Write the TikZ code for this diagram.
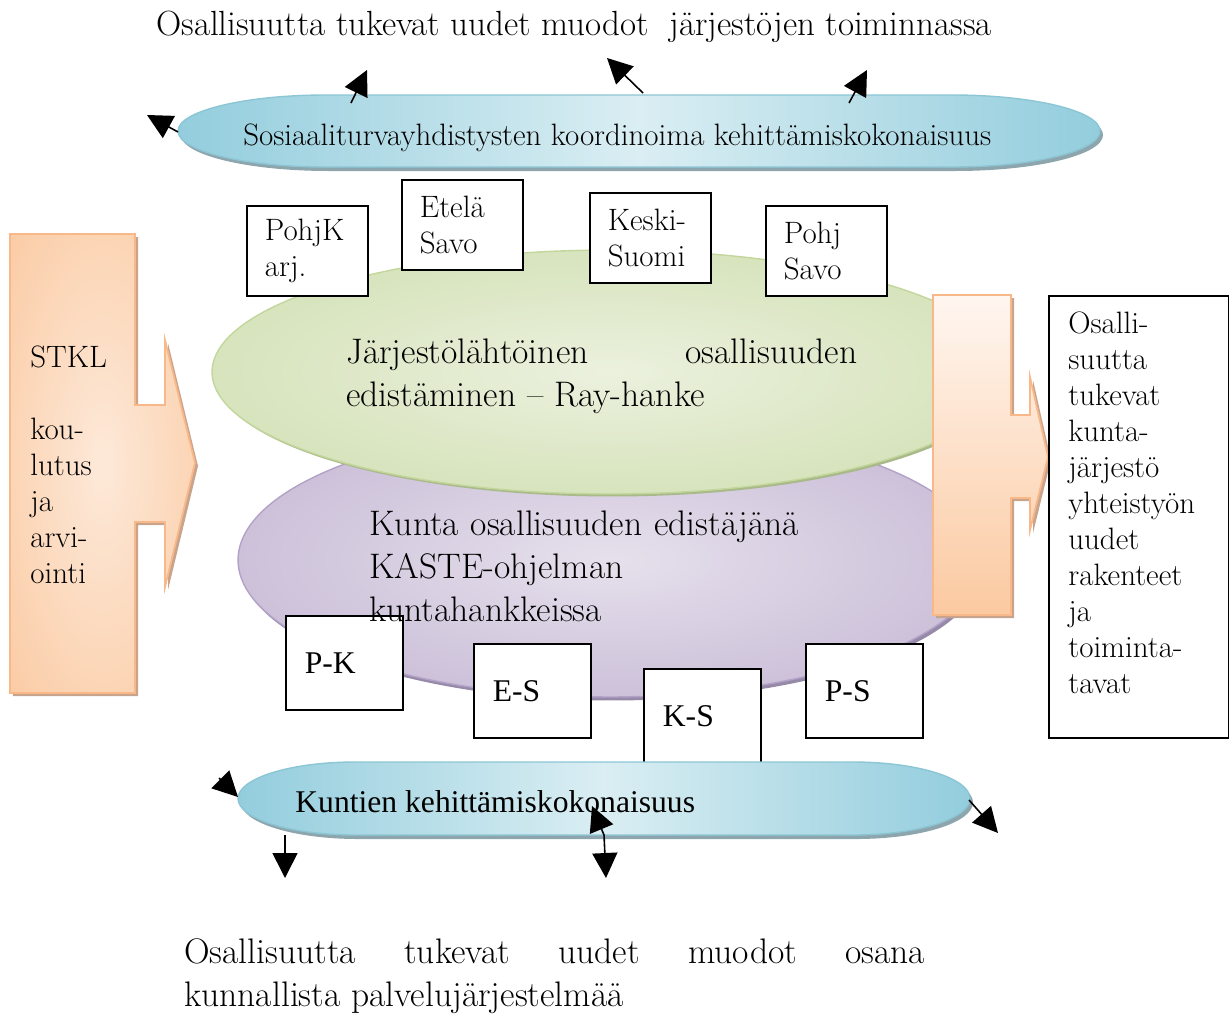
\documentclass[tikz,border=0pt]{standalone}
\usepackage{fontspec}
\newfontfamily\timesfont{Liberation Serif}
\usetikzlibrary{arrows.meta,shapes.geometric,shadows}

\definecolor{capsuleedge}{HTML}{93CDDD}
\definecolor{capsulemid}{HTML}{DAEEF3}
\definecolor{capsuleline}{HTML}{8CC6D5}
\definecolor{capsuleshadow}{HTML}{8DA5AD}
\definecolor{greenedge}{HTML}{C3D69B}
\definecolor{greenmid}{HTML}{EBF1DE}
\definecolor{greenshadow}{HTML}{A9B98A}
\definecolor{purpleedge}{HTML}{B3A2C7}
\definecolor{purplemid}{HTML}{E6E0EC}
\definecolor{purpleshadow}{HTML}{978AA9}
\definecolor{orangeedge}{HTML}{FAC090}
\definecolor{orangemid}{HTML}{FDE9D9}
\definecolor{orangepale}{HTML}{FFF6F0}
\definecolor{orangeline}{HTML}{F9B88A}
\definecolor{orangeshadow}{HTML}{C8A48D}

\pgfdeclareradialshading{greenglow}{\pgfpoint{0bp}{0bp}}{color(0bp)=(greenmid); color(50bp)=(greenedge)}
\pgfdeclareradialshading{purpleglow}{\pgfpoint{0bp}{0bp}}{color(0bp)=(purplemid); color(50bp)=(purpleedge)}
\pgfdeclareradialshading{orangeglow}{\pgfpoint{0bp}{0bp}}{color(0bp)=(orangemid); color(50bp)=(orangeedge)}

\tikzset{
  bigtext/.style={font=\fontsize{20.2}{24.5}\selectfont, inner sep=0pt, anchor=base west, align=left},
  smalltext/.style={font=\fontsize{17.6}{20.5}\selectfont, inner sep=0pt, anchor=base west, align=left},
  capsule/.style={draw=capsuleline, line width=0.8pt, left color=capsuleedge, right color=capsuleedge, middle color=capsulemid,
    drop shadow={shadow xshift=0.06cm, shadow yshift=-0.08cm, fill=capsuleshadow, opacity=1}},
  blob/.style={ellipse, inner sep=0pt, shade, line width=0.8pt},
  callout/.style={draw=orangeline, line width=1pt,
    drop shadow={shadow xshift=0.06cm, shadow yshift=-0.06cm, fill=orangeshadow, opacity=1}},
  regionbox/.style={draw, line width=1pt, fill=white, anchor=north west, minimum width=2.42cm, minimum height=1.8cm,
    text width=1.7cm, inner xsep=0.36cm, inner ysep=0pt, align=left, font=\fontsize{17.6}{20.5}\selectfont},
  townbox/.style={draw, line width=1pt, fill=white, anchor=north west, minimum width=2.34cm, minimum height=1.88cm,
    text width=1.58cm, inner xsep=0.38cm, inner ysep=0pt, align=left, font=\timesfont\fontsize{18}{21}\selectfont},
  pointer/.style={line width=0.9pt, -{Triangle[length=0.5cm, width=0.5cm]}},
  twoway/.style={line width=0.9pt, {Triangle[length=0.5cm, width=0.5cm]}-{Triangle[length=0.5cm, width=0.5cm]}},
}

\begin{document}
\begin{tikzpicture}[x=0.02cm, y=-0.02cm]
  \useasboundingbox (0,0) rectangle (1229,1014);

  \node (heading) [font=\fontsize{19.9}{23}\selectfont, anchor=base, inner sep=0pt] at (574,35)
    {Osallisuutta tukevat uudet muodot \ järjestöjen toiminnassa};

  % associations capsule
  \path[capsule] (326,95) -- (952,95) arc[start angle=-90, end angle=90, x radius=148, y radius=36]
    -- (326,167) arc[start angle=90, end angle=270, x radius=148, y radius=36] -- cycle;
  \node (assoctext) [font=\fontsize{17.6}{20}\selectfont, anchor=base west, inner sep=0pt] at (243,145)
    {Sosiaaliturvayhdistysten koordinoima kehittämiskokonaisuus};
  \coordinate (assoc-w) at (178,132);
  \coordinate (assoc-a) at (351,103);
  \coordinate (assoc-b) at (643,93);
  \coordinate (assoc-c) at (849,103);
  \coordinate (out-w) at (147,115);
  \coordinate (out-a) at (367,70);
  \coordinate (out-b) at (607,58);
  \coordinate (out-c) at (867,70);
  \draw[pointer] (assoc-w) -- (out-w);
  \draw[pointer] (assoc-a) -- (out-a);
  \draw[pointer] (assoc-b) -- (out-b);
  \draw[pointer] (assoc-c) -- (out-c);

  % STKL callout
  \path[callout, shade, shading=orangeglow] (10,234) -- (135,234) -- (135,405) -- (165,405) -- (165,340)
    -- (195,463) -- (165,587) -- (165,522) -- (135,522) -- (135,693) -- (10,693) -- cycle;
  \node (stkl) [smalltext, text width=2cm] at (30,367) {STKL\\[20.5pt]kou-\\lutus\\ja\\arvi-\\ointi};

  % the two projects
  \node (kunta) [blob, shading=purpleglow, draw=purpleedge, minimum width=14.88cm, minimum height=5.48cm,
    drop shadow={shadow xshift=0.05cm, shadow yshift=-0.07cm, fill=purpleshadow, opacity=1}] at (610,560) {};
  \node (jarjesto) [blob, shading=greenglow, draw=greenedge, minimum width=15.92cm, minimum height=4.88cm,
    drop shadow={shadow xshift=0.05cm, shadow yshift=-0.05cm, fill=greenshadow, opacity=1}] at (610,372) {};
  \node (jarjestotext) [bigtext, text width=10.22cm, align=justify] at (346,363)
    {Järjestölähtöinen osallisuuden\linebreak edistäminen – Ray-hanke};

  % regions
  \node (pohjk) [regionbox] at (246,205) {PohjK\\arj.};
  \node (etela) [regionbox] at (401,179) {Etelä\\Savo};
  \node (keski) [regionbox] at (589,192) {Keski-\\Suomi};
  \node (pohjsavo) [regionbox] at (765,205) {Pohj\\Savo};

  \node (pk) [townbox] at (285,615) {P-K};
  \node (es) [townbox] at (473,643) {E-S};
  \node (ks) [townbox] at (643,668) {K-S};
  \node (ps) [townbox] at (805,643) {P-S};
  \node (kuntatext) [bigtext, text width=9.5cm] at (369,535)
    {Kunta osallisuuden edistäjänä\\KASTE-ohjelman\\kuntahankkeissa};

  % result callout and box
  \path[callout, top color=orangepale, bottom color=orangeedge!85] (933,295) -- (1011,295) -- (1011,415)
    -- (1030,415) -- (1030,377) -- (1048,457) -- (1030,530) -- (1030,498) -- (1011,498) -- (1011,615)
    -- (933,615) -- cycle;
  \node (result) [draw, line width=1pt, fill=white, anchor=north west, minimum width=3.6cm, minimum height=8.84cm,
    inner sep=0pt] at (1048,295) {};
  \node (resulttext) [smalltext, text width=3.1cm] at (1068,333)
    {Osalli-\\suutta\\tukevat\\kunta-\\järjestö\\yhteistyön\\uudet\\rakenteet\\ja\\toiminta-\\tavat};

  % municipalities capsule
  \path[capsule] (355,762) -- (853,762) arc[start angle=-90, end angle=90, x radius=117, y radius=36.5]
    -- (355,835) arc[start angle=90, end angle=270, x radius=117, y radius=36.5] -- cycle;
  \node (kuntientext) [font=\timesfont\fontsize{18}{21}\selectfont, anchor=base west, inner sep=0pt] at (295,812)
    {Kuntien kehittämiskokonaisuus};
  \coordinate (munic-w) at (219,778);
  \coordinate (munic-wtip) at (238,797);
  \coordinate (munic-a) at (285,835);
  \coordinate (munic-atip) at (285,878);
  \coordinate (munic-up) at (592,806);
  \coordinate (munic-bend) at (604,835);
  \coordinate (munic-down) at (606,878);
  \coordinate (munic-e) at (969,800);
  \coordinate (munic-etip) at (998,833);
  \draw[pointer] (munic-w) -- (munic-wtip);
  \draw[pointer] (munic-a) -- (munic-atip);
  \draw[twoway] (munic-up) -- (munic-bend) -- (munic-down);
  \draw[pointer] (munic-e) -- (munic-etip);

  \node (bottomtext) [bigtext, text width=14.82cm, align=justify] at (184,963)
    {Osallisuutta tukevat uudet muodot osana\linebreak kunnallista palvelujärjestelmää};
\end{tikzpicture}
\end{document}
